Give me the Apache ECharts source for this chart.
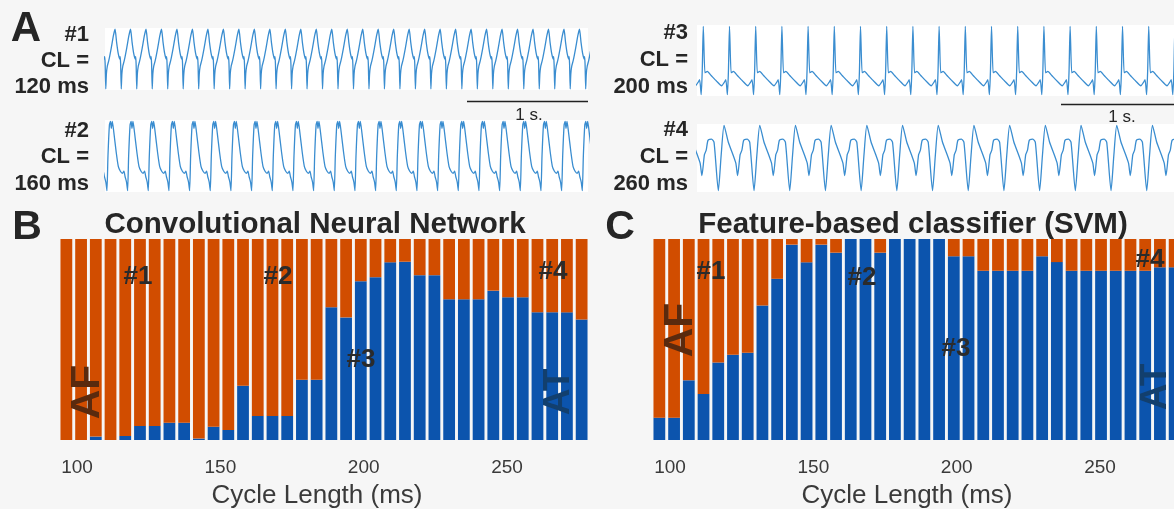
<!DOCTYPE html>
<html>
<head>
<meta charset="utf-8">
<script src="https://cdn.jsdelivr.net/npm/echarts@6/dist/echarts.min.js"></script>
<style>
  html, body { margin: 0; background: #f6f6f6; }
  #chart { width: 1174px; height: 509px; }
</style>
</head>
<body>
<div id="chart"></div>
<script>
// panel A: one beat of each recording, [phase in cycle, normalised amplitude]
const beat1 = [[0, 1], [0.1, 0.78], [0.2, 0.6], [0.3, 0.5], [0.33, 0.54], [0.36, 0.42], [0.4, 0], [0.44, 0.25], [0.5, 0.38], [0.6, 0.48], [0.75, 0.68], [0.9, 0.9]];
const beat2 = [[0, 0], [0.05, 0.5], [0.12, 0.95], [0.17, 1], [0.21, 0.9], [0.26, 1], [0.33, 0.85], [0.45, 0.55], [0.55, 0.35], [0.65, 0.28], [0.75, 0.25], [0.82, 0.28], [0.88, 0.2], [0.95, 0.12]];
const beat3 = [[0, 1], [0.06, 0.32], [0.1, 0.33], [0.15, 0.34], [0.3, 0.28], [0.5, 0.2], [0.7, 0.13], [0.8, 0.18], [0.86, 0.22], [0.92, 0], [0.96, 0.35]];
const beat4 = [[0, 1], [0.12, 0.74], [0.25, 0.55], [0.33, 0.42], [0.38, 0.23], [0.45, 0.55], [0.5, 0.62], [0.55, 0.77], [0.65, 0.79], [0.72, 0.74], [0.84, 0], [0.92, 0.55]];

// cycle length (ms), time of first beat (ms), visible duration (ms)
const traceCL = [120, 160, 200, 260];
const traceFirst = [78, 15, 48, 197];
const traceDur = [3744, 3739, 3641, 3474];

// panels B and C: share of windows classified as AT / AF (%)
const cycleLengths = [100, 105, 110, 115, 120, 125, 130, 135, 140, 145, 150, 155, 160, 165, 170, 175, 180, 185,
  190, 195, 200, 205, 210, 215, 220, 225, 230, 235, 240, 245, 250, 255, 260, 265, 270, 275];
const cnnAT = [0, 0, 1.7, 0, 2, 7, 7, 8.6, 8.6, 0.7, 6.6, 5, 27, 12, 12, 12, 30, 30,
  66, 61, 79, 81, 88.4, 88.7, 82, 82, 70, 70, 70, 74.3, 71, 71, 63.5, 63.5, 63.5, 60];
const cnnAF = [100, 100, 98.3, 100, 98, 93, 93, 91.4, 91.4, 99.3, 93.4, 95, 73, 88, 88, 88, 70, 70,
  34, 39, 21, 19, 11.6, 11.3, 18, 18, 30, 30, 30, 25.7, 29, 29, 36.5, 36.5, 36.5, 40];
const svmAT = [11.1, 11.1, 29.7, 22.9, 38.5, 42.4, 43.4, 66.9, 80.2, 97.2, 88.4, 97.2, 93.2, 100, 100, 93.2, 100, 100,
  100, 100, 91.4, 91.4, 84.2, 84.2, 84.2, 84.2, 91.4, 88.5, 84.2, 84.2, 84.2, 84.2, 84.2, 84.2, 85.9, 85.9];
const svmAF = [88.9, 88.9, 70.3, 77.1, 61.5, 57.6, 56.6, 33.1, 19.8, 2.8, 11.6, 2.8, 6.8, 0, 0, 6.8, 0, 0,
  0, 0, 8.6, 8.6, 15.8, 15.8, 15.8, 15.8, 8.6, 11.5, 15.8, 15.8, 15.8, 15.8, 15.8, 15.8, 14.1, 14.1];
const tickValues = [100, 150, 200, 250];
// extent (ms) of the printed cycle-length scale under each bar panel
const scaleMin = 93.7;
const scaleMax = 278.6;

const beats = [beat1, beat2, beat3, beat4];
function tile(beat, cl, first, dur) {
  const pts = [];
  for (let t0 = first - cl; t0 < dur + cl; t0 += cl) {
    beat.forEach(([p, v]) => pts.push([t0 + p * cl, v]));
  }
  return pts;
}

const FONT = '"Liberation Sans", Arial, sans-serif';
const BLUE = '#0c54ad';
const ORANGE = '#d14d00';
const TRACE = '#3a8dd0';

const traceGrids = [
  { left: 105, top: 28, width: 483, height: 62 },
  { left: 105, top: 120, width: 483, height: 72 },
  { left: 697, top: 25, width: 477, height: 71 },
  { left: 697, top: 124, width: 477, height: 68 }
];
const barGrids = [
  { left: 59, top: 239, width: 530, height: 201 },
  { left: 652, top: 239, width: 530, height: 201 }
];
const namePadRight = [14, 20];

const grids = traceGrids.map(g => Object.assign({ show: true, backgroundColor: '#ffffff', borderWidth: 0 }, g))
  .concat(barGrids)
  .map(g => Object.assign({ outerBoundsMode: 'none', containLabel: false }, g));

const xAxes = [], yAxes = [], series = [];
traceGrids.forEach((g, i) => {
  xAxes.push({ gridIndex: i, type: 'value', min: 0, max: traceDur[i], show: false });
  yAxes.push({ gridIndex: i, type: 'value', min: -0.02, max: 1.02, show: false });
  series.push({
    type: 'line', xAxisIndex: i, yAxisIndex: i, symbol: 'none', smooth: 0.2,
    data: tile(beats[i], traceCL[i], traceFirst[i], traceDur[i]),
    lineStyle: { color: TRACE, width: 1.3 }
  });
});

const barSets = [[cnnAT, cnnAF], [svmAT, svmAF]];
barSets.forEach(([at, af], j) => {
  const k = 4 + j;
  const catIdx = xAxes.length;
  xAxes.push({
    gridIndex: k, type: 'category', data: cycleLengths, position: 'bottom',
    axisLine: { show: false }, axisTick: { show: false }, axisLabel: { show: false }
  });
  // printed scale (labels + title) under the bars
  xAxes.push({
    gridIndex: k, type: 'value', min: scaleMin, max: scaleMax, position: 'bottom',
    axisLine: { show: false }, axisTick: { show: false }, splitLine: { show: false },
    axisLabel: {
      customValues: tickValues, margin: 18, fontSize: 19, color: '#3a3a3a', fontFamily: FONT
    },
    name: 'Cycle Length (ms)', nameLocation: 'middle', nameGap: 43,
    nameTextStyle: { fontSize: 26, color: '#3a3a3a', fontFamily: FONT, padding: [0, namePadRight[j], 0, 0] }
  });
  yAxes.push({ gridIndex: k, type: 'value', min: 0, max: 100, show: false });
  series.push({
    name: 'AT', type: 'bar', stack: 's' + j, xAxisIndex: catIdx, yAxisIndex: k,
    barCategoryGap: '20%', data: at, itemStyle: { color: BLUE }
  });
  series.push({
    name: 'AF', type: 'bar', stack: 's' + j, xAxisIndex: catIdx, yAxisIndex: k,
    barCategoryGap: '20%', data: af, itemStyle: { color: ORANGE }
  });
});

function txt(text, x, y, size, opts) {
  const o = opts || {};
  return {
    type: 'text', x: x, y: y, rotation: o.rot || 0, z: 100,
    style: {
      text: text, align: o.align || 'center', verticalAlign: 'middle',
      font: (o.weight || 'bold') + ' ' + size + 'px ' + FONT,
      fill: o.color || '#262626'
    }
  };
}

const graphic = [
  txt('A', 26, 29, 42),
  txt('B', 27, 228, 41),
  txt('C', 620, 228, 41),
  // panel A labels
  txt('#1', 89, 35, 22, { align: 'right' }),
  txt('CL =', 89, 61, 22, { align: 'right' }),
  txt('120 ms', 89, 87, 22, { align: 'right' }),
  txt('#2', 89, 131, 22, { align: 'right' }),
  txt('CL =', 89, 157, 22, { align: 'right' }),
  txt('160 ms', 89, 184, 22, { align: 'right' }),
  txt('#3', 688, 33, 22, { align: 'right' }),
  txt('CL =', 688, 60, 22, { align: 'right' }),
  txt('200 ms', 688, 87, 22, { align: 'right' }),
  txt('#4', 688, 130, 22, { align: 'right' }),
  txt('CL =', 688, 157, 22, { align: 'right' }),
  txt('260 ms', 688, 184, 22, { align: 'right' }),
  // scale bars
  { type: 'line', z: 100, shape: { x1: 467, y1: 101.5, x2: 588, y2: 101.5 }, style: { stroke: '#222', lineWidth: 1.5 } },
  txt('1 s.', 529, 115, 17, { weight: 'normal' }),
  { type: 'line', z: 100, shape: { x1: 1061, y1: 104.5, x2: 1180, y2: 104.5 }, style: { stroke: '#222', lineWidth: 1.5 } },
  txt('1 s.', 1122, 117, 17, { weight: 'normal' }),
  // panel titles
  txt('Convolutional Neural Network', 315, 225, 29.5),
  txt('Feature-based classifier (SVM)', 913, 225, 29.5),
  // annotations in B
  txt('#1', 138, 277, 26, { color: '#2b2b2b' }),
  txt('#2', 278, 277, 26, { color: '#2b2b2b' }),
  txt('#3', 361, 360, 26, { color: '#2b2b2b' }),
  txt('#4', 553, 272, 26, { color: '#2b2b2b' }),
  txt('AF', 88, 392, 41, { rot: Math.PI / 2, color: '#5a2a0e' }),
  txt('AT', 559, 392, 37, { rot: Math.PI / 2, color: '#123f6e' }),
  // annotations in C
  txt('#1', 711, 272, 26, { color: '#2b2b2b' }),
  txt('#2', 862, 278, 26, { color: '#2b2b2b' }),
  txt('#3', 956, 349, 26, { color: '#2b2b2b' }),
  txt('#4', 1150, 260, 26, { color: '#2b2b2b' }),
  txt('AF', 681, 330, 41, { rot: Math.PI / 2, color: '#5a2a0e' }),
  txt('AT', 1156, 387, 37, { rot: Math.PI / 2, color: '#123f6e' })
];

const chart = echarts.init(document.getElementById('chart'), null, { renderer: 'canvas' });
chart.setOption({
  backgroundColor: '#f6f6f6',
  animation: false,
  textStyle: { fontFamily: FONT },
  grid: grids,
  xAxis: xAxes,
  yAxis: yAxes,
  series: series,
  graphic: graphic
});
</script>
</body>
</html>
